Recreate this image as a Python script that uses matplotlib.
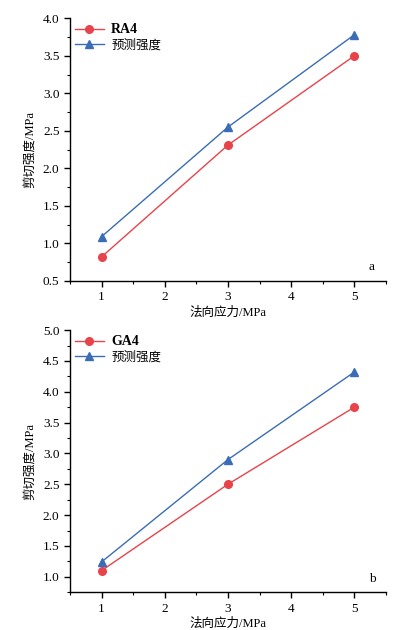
import matplotlib
matplotlib.use("Agg")
import matplotlib.pyplot as plt
from matplotlib.ticker import MultipleLocator, FormatStrFormatter

plt.rcParams['font.family'] = ['Liberation Serif', 'Noto Sans CJK SC', 'DejaVu Sans']

x = [1, 3, 5]
ra4 = [0.82, 2.31, 3.50]
pred_a = [1.09, 2.55, 3.78]
ga4 = [1.10, 2.50, 3.75]
pred_b = [1.24, 2.90, 4.32]

red = '#E8434A'
blue = '#3A6DB5'

fig = plt.figure(figsize=(3.95, 6.3), dpi=100)
ax1 = fig.add_axes([0.177, 0.554, 0.80, 0.417])
ax2 = fig.add_axes([0.177, 0.060, 0.80, 0.416])

def style(ax, ylim, label_a, meas, pred, letter):
    ax.plot(x, meas, color=red, marker='o', markersize=5.5, lw=1, label=label_a)
    ax.plot(x, pred, color=blue, marker='^', markersize=6, lw=1, label='预测强度')
    ax.set_xlim(0.5, 5.5)
    ax.set_ylim(*ylim)
    ax.xaxis.set_major_locator(MultipleLocator(1))
    ax.xaxis.set_minor_locator(MultipleLocator(0.5))
    ax.yaxis.set_major_locator(MultipleLocator(0.5))
    ax.yaxis.set_minor_locator(MultipleLocator(0.25))
    ax.yaxis.set_major_formatter(FormatStrFormatter('%.1f'))
    for s in ['top', 'right']:
        ax.spines[s].set_visible(False)
    for s in ['left', 'bottom']:
        ax.spines[s].set_linewidth(1.0)
    ax.tick_params(which='major', direction='out', length=4, width=1, labelsize=9.5)
    ax.tick_params(which='minor', direction='out', length=2.5, width=0.8)
    ax.set_xlabel('法向应力/MPa', fontsize=9, labelpad=2)
    ax.set_ylabel('剪切强度/MPa', fontsize=9, labelpad=5)
    leg = ax.legend(loc='upper left', frameon=False, fontsize=9, handlelength=2.3,
                    borderaxespad=0.15, borderpad=0.25, handletextpad=0.6,
                    labelspacing=0.25)
    leg.get_texts()[0].set_fontweight('bold')
    leg.get_texts()[0].set_fontsize(10)
    ax.text(0.945, 0.04, letter, transform=ax.transAxes, fontsize=9.5)

style(ax1, (0.5, 4.0), 'RA4', ra4, pred_a, 'a')
style(ax2, (0.75, 5.0), 'GA4', ga4, pred_b, 'b')
ax2.set_yticks([1.0, 1.5, 2.0, 2.5, 3.0, 3.5, 4.0, 4.5, 5.0])

fig.savefig('out.png', dpi=100)
